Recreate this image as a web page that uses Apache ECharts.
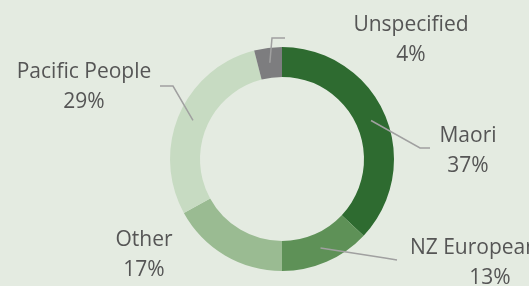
<!DOCTYPE html>
<html>
<head>
<meta charset="utf-8">
<script src="https://cdn.jsdelivr.net/npm/echarts@6/dist/echarts.min.js"></script>
<style>
  html, body { margin: 0; padding: 0; background: #e4ebe1; }
  #chart { width: 529px; height: 286px; }
</style>
</head>
<body>
<div id="chart"></div>
<script>
var names = ['Maori', 'NZ European', 'Other', 'Pacific People', 'Unspecified'];
var shares = [37, 13, 17, 29, 4];
var colors = ['#2e6b30', '#5e9157', '#9abb92', '#c7dbc2', '#7d7d7f'];

var cx = 282, cy = 159, rIn = 82, rOut = 112;
// label centres and leader line bends, placed like the excel chart
var labelPos = [[468, 151], [474, 263], [144, 255], [84, 87], [411, 40]];
var lineBends = [[[420, 148], [430, 148]], [[385, 258], [397, 260]], null, [[173, 86], [160, 86]], [[272, 38], [285, 38]]];

var total = shares.reduce(function (a, b) { return a + b; }, 0);

// point in the middle of the ring at the slice's mid angle
function midRing(i) {
  var before = 0;
  for (var k = 0; k < i; k++) before += shares[k];
  var a = (before + shares[i] / 2) / total * Math.PI * 2;
  var r = (rIn + rOut) / 2;
  return [cx + r * Math.sin(a), cy - r * Math.cos(a)];
}

var txt = { fontFamily: 'Open Sans', fontSize: 21, lineHeight: 30, color: '#555555' };

var base = {
  type: 'pie',
  center: [cx, cy],
  radius: [rIn, rOut],
  startAngle: 90,
  clockwise: true,
  silent: true,
  avoidLabelOverlap: false
};

var chart = echarts.init(document.getElementById('chart'));
chart.setOption({
  backgroundColor: '#e4ebe1',
  animation: false,
  series: [
    // the ring itself
    Object.assign({}, base, {
      z: 2,
      label: { show: false },
      labelLine: { show: false },
      data: names.map(function (n, i) {
        return { name: n, value: shares[i], itemStyle: { color: colors[i] } };
      })
    }),
    // invisible copy on top, only for labels so leader lines sit over the ring
    Object.assign({}, base, {
      z: 3,
      itemStyle: { color: 'rgba(0,0,0,0)' },
      label: Object.assign({
        show: true,
        formatter: '{b}\n{c}%',
        align: 'center'
      }, txt),
      labelLine: {
        show: true,
        lineStyle: { color: '#a0a0a0', width: 1.5 }
      },
      labelLayout: function (p) {
        var i = p.dataIndex;
        var res = {
          x: labelPos[i][0],
          y: labelPos[i][1],
          align: 'center',
          verticalAlign: 'middle'
        };
        if (lineBends[i]) {
          res.labelLinePoints = [midRing(i)].concat(lineBends[i]);
        }
        return res;
      },
      data: names.map(function (n, i) {
        var d = {
          name: n,
          value: shares[i],
          labelLine: { show: lineBends[i] !== null }
        };
        if (n === 'NZ European') {
          // excel cut this label at the edge, the percent sits off-centre
          d.label = {
            formatter: '{t|{b}}\n{p|{c}%}',
            rich: {
              t: txt,
              p: Object.assign({ padding: [0, 0, 0, 32] }, txt)
            }
          };
        }
        return d;
      })
    })
  ]
});
</script>
</body>
</html>
